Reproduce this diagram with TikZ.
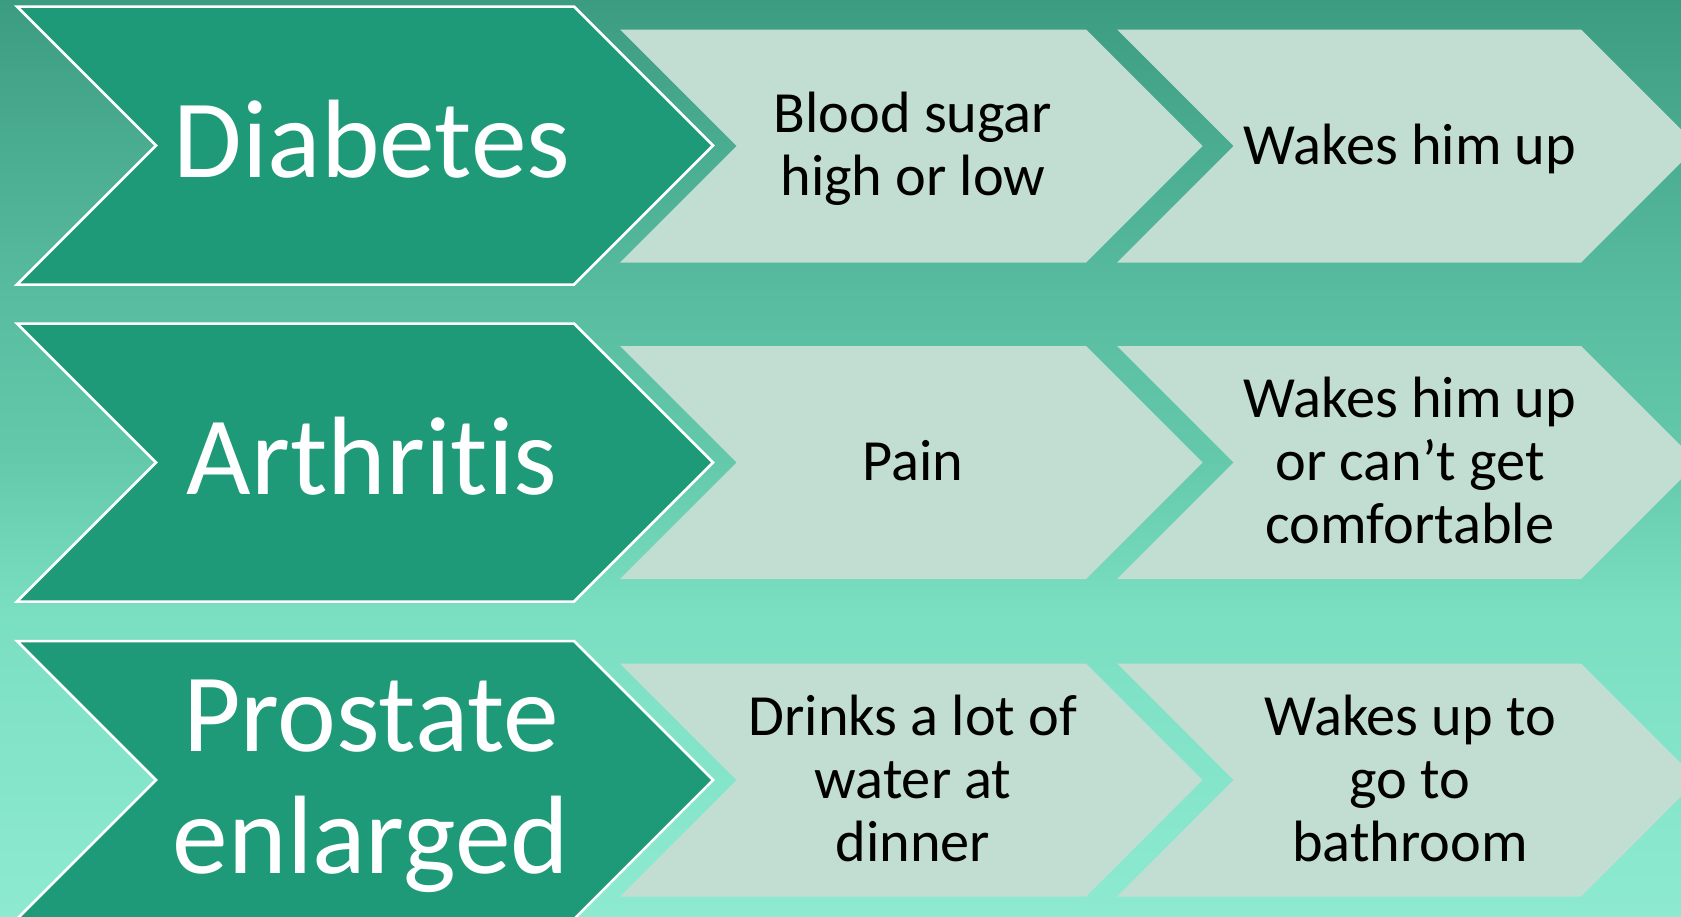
\documentclass[tikz,border=0pt]{standalone}
\usepackage{fontspec}
\setmainfont{Carlito}[Ligatures=NoCommon]
\definecolor{bgA}{RGB}{60,156,130}
\definecolor{bgB}{RGB}{88,188,160}
\definecolor{bgC}{RGB}{100,201,171}
\definecolor{bgD}{RGB}{122,222,193}
\definecolor{bgE}{RGB}{141,234,209}
\definecolor{darkfill}{RGB}{31,154,121}
\definecolor{lightfill}{RGB}{194,221,210}
\pgfdeclareverticalshading{bgshade}{100bp}{color(0bp)=(bgE); color(25bp)=(bgE); color(41.7bp)=(bgD); color(49.9bp)=(bgC); color(58.9bp)=(bgB); color(75bp)=(bgA); color(100bp)=(bgA)}
% #1 left x, #2 centre y, #3 body right x, #4 half height
\newcommand{\chevpath}[4]{(#1,#2-#4) -- (#3,#2-#4) -- (#3+#4,#2) -- (#3,#2+#4) -- (#1,#2+#4) -- (#1+#4,#2) -- cycle}
\newcommand{\lstrut}{\rule[-13.5pt]{0pt}{63pt}}
\newcommand{\dstrut}{\rule[-29pt]{0pt}{122pt}}
\tikzset{
  darkchev/.style={fill=darkfill, draw=white, line width=2.5pt, line join=miter},
  lightchev/.style={fill=lightfill},
  darktext/.style={text=white, align=center, inner sep=0pt, font=\fontsize{111.5}{122}\selectfont},
  lighttext/.style={text=black, align=center, inner sep=0pt, font=\fontsize{58.3}{63}\selectfont}
}
\begin{document}
\begin{tikzpicture}[x=1pt,y=-1pt]
\useasboundingbox (0,0) rectangle (1681,916);
\clip (0,0) rectangle (1681,916);
\fill[shading=bgshade] (0,0) rectangle (1681,916);
% light chevrons
\foreach \cy in {146,462.5,780}{
  \fill[lightchev] \chevpath{620}{\cy}{1086}{116.5};
  \fill[lightchev] \chevpath{1117}{\cy}{1581}{116.5};
}
% dark chevrons
\foreach \cy in {145.5,462.5,780}{
  \draw[darkchev] \chevpath{17}{\cy}{574}{139};
}
% texts
\node[darktext] (d1) at (372,145.5) {\dstrut Diabetes};
\node[darktext] (d2) at (372,462.5) {\dstrut Arthritis};
\node[darktext] (d3) at (371,780) {\dstrut Prostate\\\dstrut enlarged};
\node[lighttext] (a1) at (913,146) {\lstrut Blood sugar\\\lstrut high or low};
\node[lighttext] (b1) at (1410,146) {\lstrut Wakes him up};
\node[lighttext] (a2) at (913,462.5) {\lstrut Pain};
\node[lighttext] (b2) at (1410,462.5) {\lstrut Wakes him up\\\lstrut or can’t get\\\lstrut comfortable};
\node[lighttext] (a3) at (913,780) {\lstrut Drinks a lot of\\\lstrut water at\\\lstrut dinner};
\node[lighttext] (b3) at (1410,780) {\lstrut Wakes up to\\\lstrut go to\\\lstrut bathroom};
\end{tikzpicture}
\end{document}
